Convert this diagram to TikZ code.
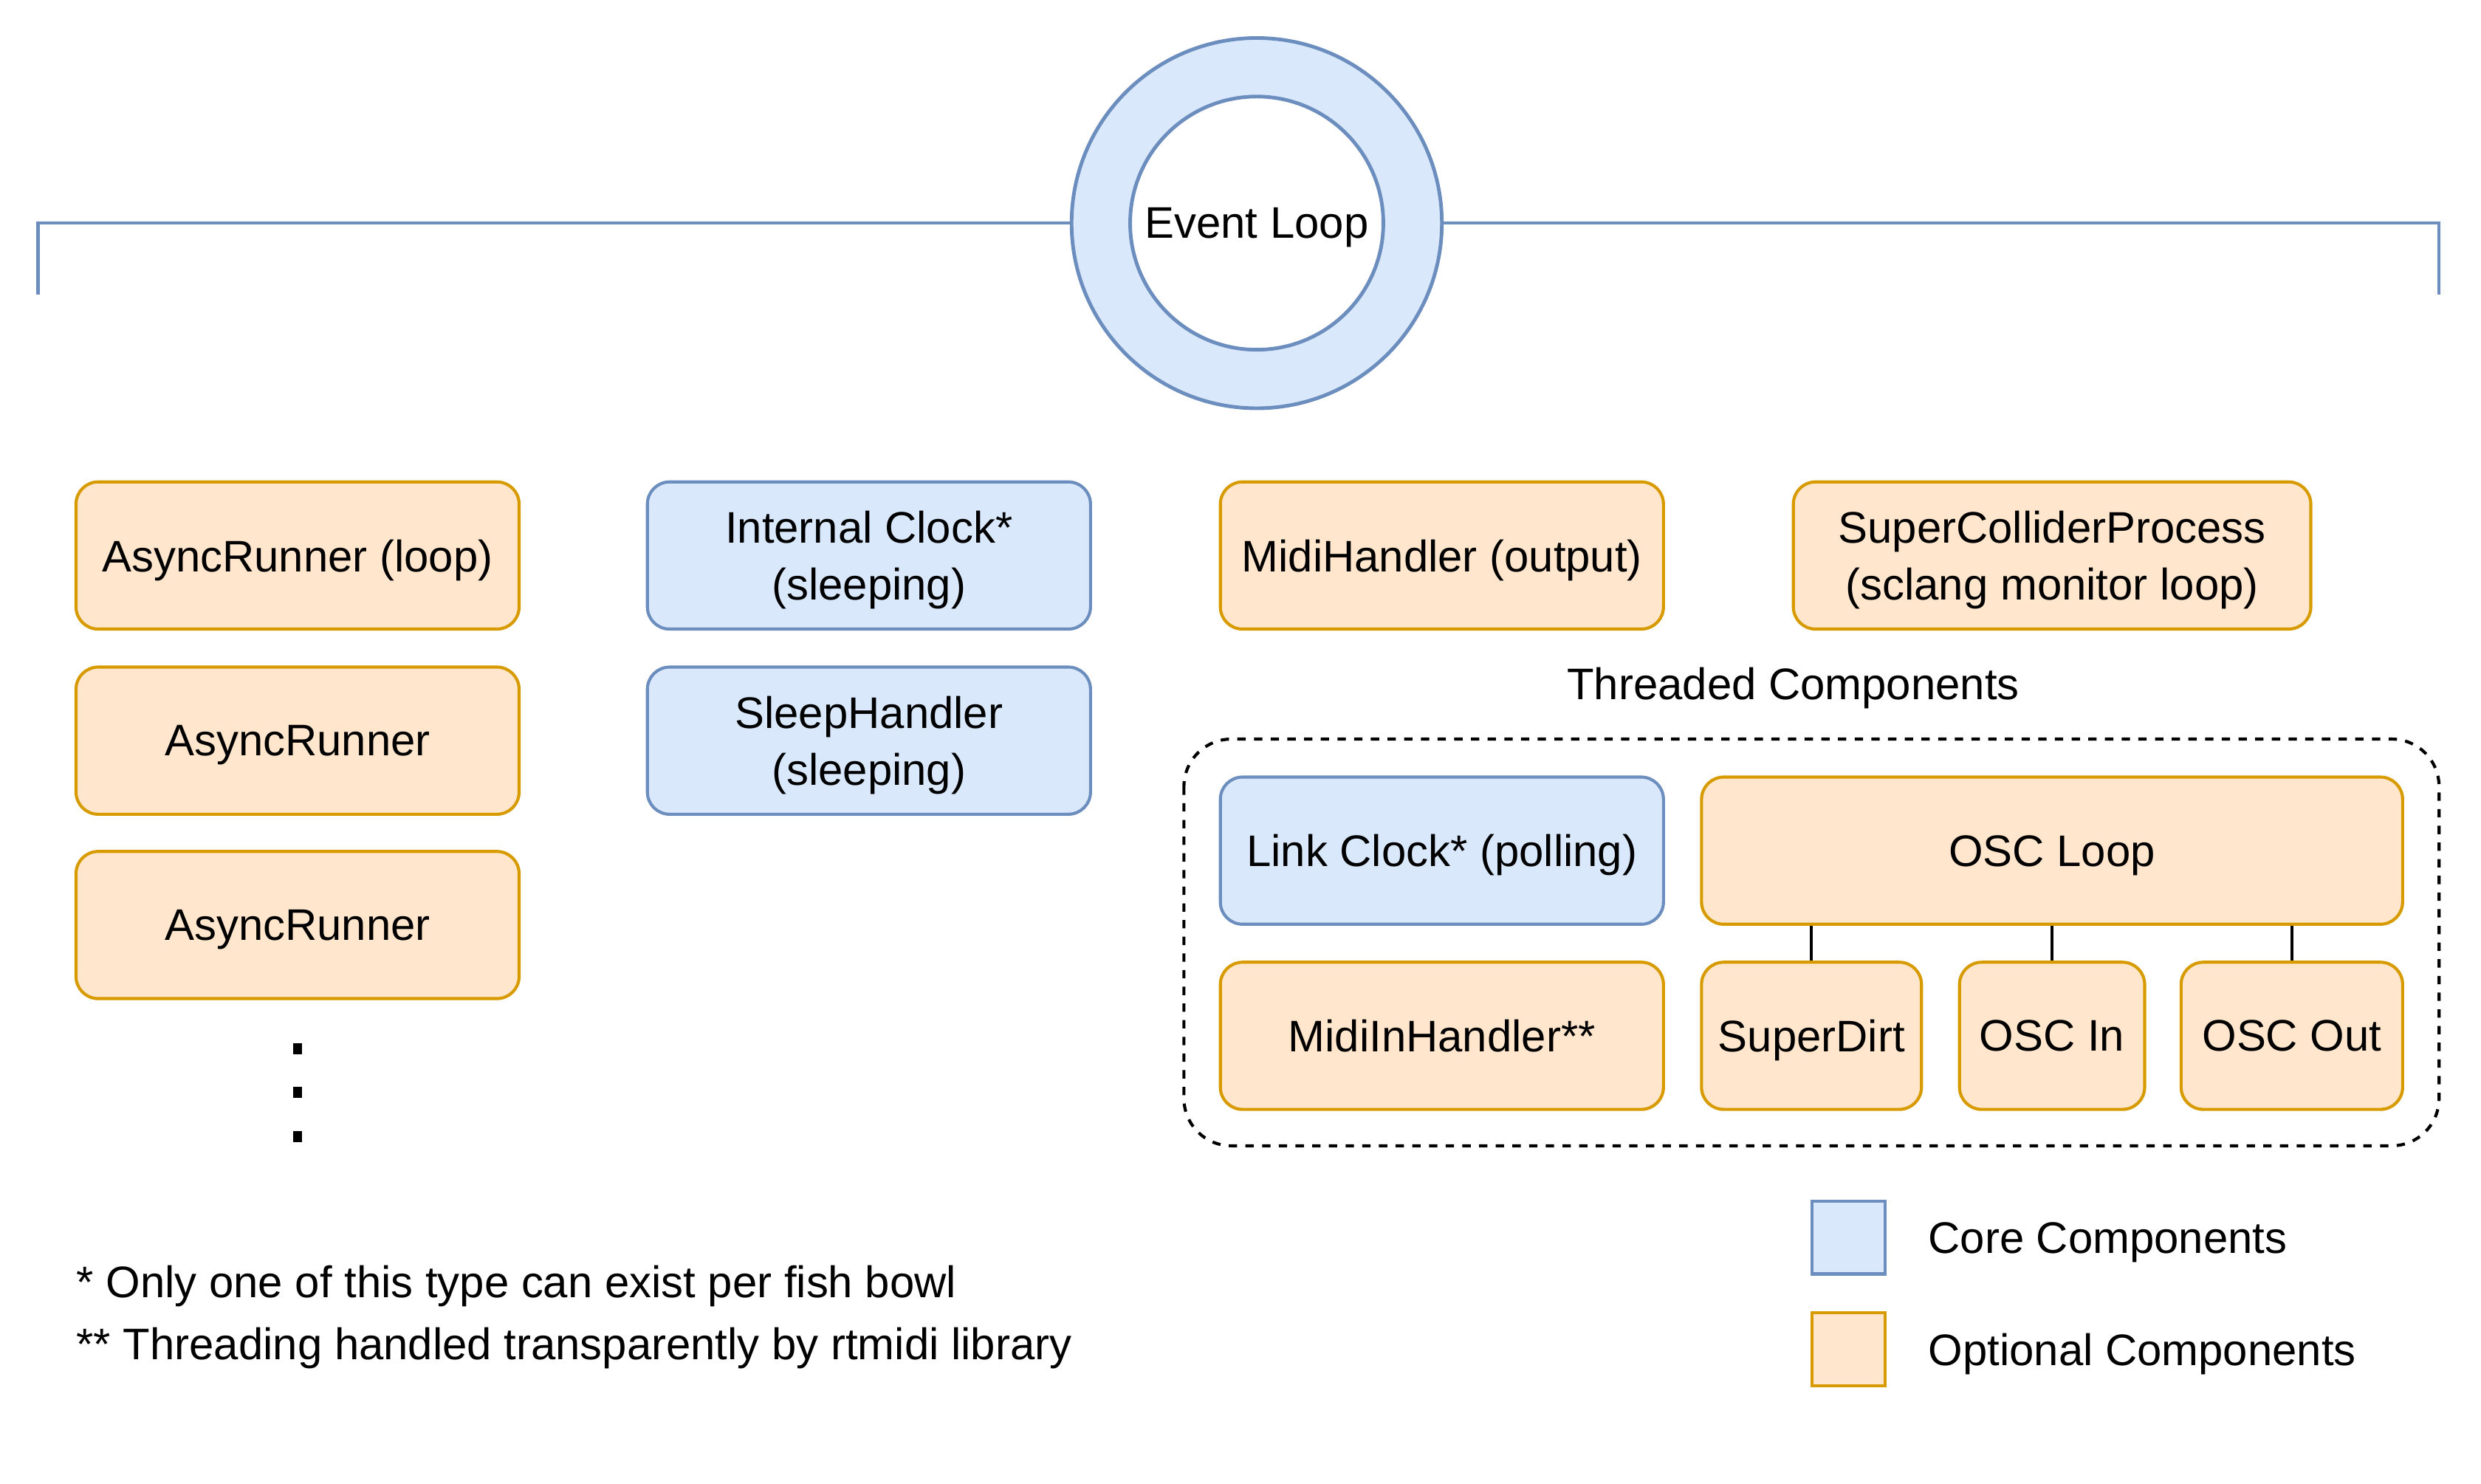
\documentclass[tikz,border=0pt]{standalone}
\usepackage{fontspec}
\setmainfont{Liberation Sans}
\usepackage{tikz}

\definecolor{coreFill}{HTML}{DAE8FC}
\definecolor{coreLine}{HTML}{6C8EBF}
\definecolor{optFill}{HTML}{FFE6CC}
\definecolor{optLine}{HTML}{D79B00}

\tikzset{
    comp/.style={draw, line width=1.1pt, rounded corners=0.28cm, align=center, inner sep=0pt, text depth=0pt,
        minimum height=1.86cm, minimum width=5.6cm, font=\fontsize{15.9}{20.5}\selectfont},
    core/.style={comp, fill=coreFill, draw=coreLine},
    optional/.style={comp, fill=optFill, draw=optLine},
    plain/.style={font=\fontsize{15.9}{20.5}\selectfont, inner sep=0pt, text depth=0pt}
}

\begin{document}
\begin{tikzpicture}[x=0.02cm, y=-0.02cm]
        \useasboundingbox (0,0) rectangle (1567.5,937.5);

        %Event loop ring and bracket
        \node[circle, draw=coreLine, fill=coreFill, line width=1.3pt, minimum size=4.68cm] (ring) at (794,141) {};
        \node[circle, draw=coreLine, fill=white, line width=1.3pt, minimum size=3.2cm, plain] (loop) at (794,141) {Event Loop};
        \coordinate (bl) at (24,186);
        \coordinate (br) at (1541,186);
        \draw[color=coreLine, line width=1.1pt] (ring.west) -| (bl);
        \draw[color=coreLine, line width=1.1pt] (ring.east) -| (br);

        %Top row
        \node[optional] (ar1) at (188,351) {AsyncRunner (loop)};
        \node[optional] (ar2) at (188,468) {AsyncRunner};
        \node[optional] (ar3) at (188,584.5) {AsyncRunner};
        \foreach \y in {662.5, 690, 718} {
            \fill (185,\y-3.5) rectangle (191,\y+3.5);
        }
        \node[core] (iclock) at (549,351) {Internal Clock*\\(sleeping)};
        \node[core] (sleep) at (549,468) {SleepHandler\\(sleeping)};
        \node[optional] (midiout) at (911,351) {MidiHandler (output)};
        \node[optional, minimum width=6.54cm] (scproc) at (1296.5,351) {SuperColliderProcess\\(sclang monitor loop)};

        %Threaded components
        \node[plain] (threaded) at (1133,432) {Threaded Components};
        \draw[line width=1.1pt, dash pattern=on 3pt off 3pt, rounded corners=0.6cm] (748,467) rectangle (1541,724);
        \node[core] (link) at (911,537.5) {Link Clock* (polling)};
        \node[optional, minimum width=8.86cm] (oscloop) at (1296.5,537.5) {OSC Loop};
        \node[optional] (midiin) at (911,654.5) {MidiInHandler**};
        \node[optional, minimum width=2.78cm] (superdirt) at (1144.5,654.5) {SuperDirt};
        \node[optional, minimum width=2.34cm] (oscin) at (1296.5,654.5) {OSC In};
        \node[optional, minimum width=2.8cm] (oscout) at (1448,654.5) {OSC Out};
        \foreach \n in {superdirt, oscin, oscout} {
            \draw[line width=1.1pt] (\n.north) -- (\n.north |- oscloop.south);
        }

        %Legend
        \node[draw=coreLine, fill=coreFill, line width=1.1pt, minimum size=0.92cm] (keycore) at (1168,782) {};
        \node[draw=optLine, fill=optFill, line width=1.1pt, minimum size=0.92cm] (keyopt) at (1168,852.5) {};
        \node[plain, anchor=west] (corelabel) at (1218,782) {Core Components};
        \node[plain, anchor=west] (optlabel) at (1218,852.5) {Optional Components};

        %Footnotes
        \node[plain, anchor=west] (note1) at (48,810) {* Only one of this type can exist per fish bowl};
        \node[plain, anchor=west] (note2) at (48,849) {** Threading handled transparently by rtmidi library};
    \end{tikzpicture}
\end{document}
